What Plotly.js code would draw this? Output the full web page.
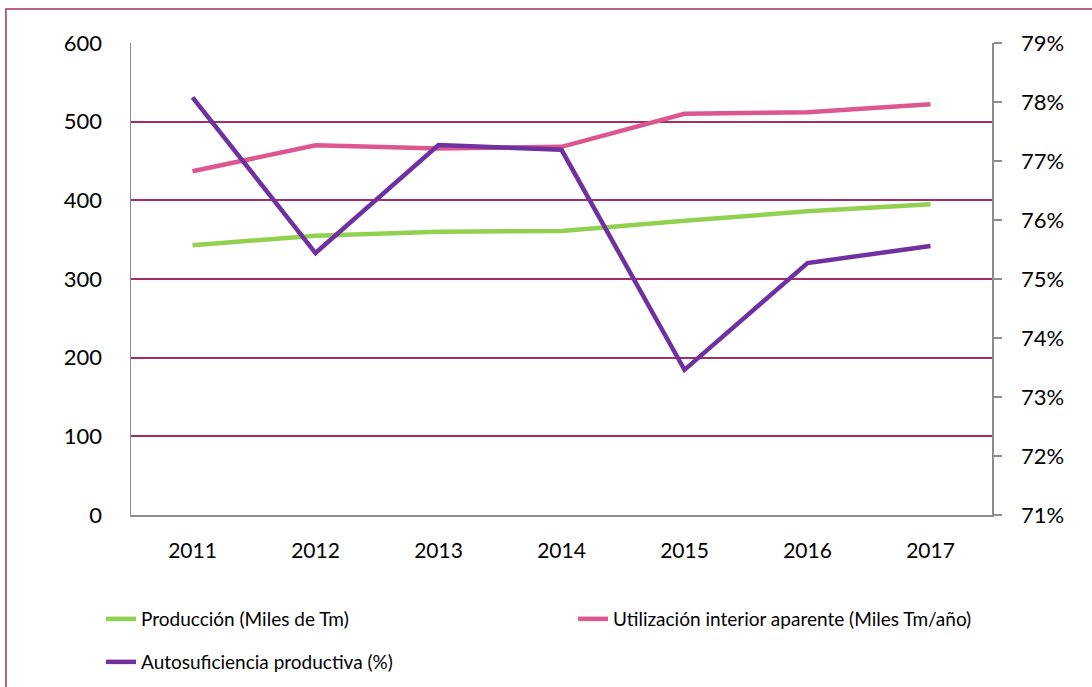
<!DOCTYPE html>
<html>
<head>
<meta charset="utf-8">
<script src="https://cdn.plot.ly/plotly-3.0.1.min.js"></script>
<style>html,body{margin:0;padding:0;background:#fff;}#chart{width:1092px;height:687px;}</style>
</head>
<body>
<div id="chart"></div>
<script>
const years = ['2011','2012','2013','2014','2015','2016','2017'];
const produccion = [343, 355, 360, 361, 374, 386, 395];
const utilizacion = [437, 470, 466, 468, 510, 512, 522];
const autosuficiencia = [78.08, 75.44, 77.27, 77.19, 73.46, 75.27, 75.56];
const names = ['Producción (Miles de Tm)', 'Utilización interior aparente (Miles Tm/año)', 'Autosuficiencia productiva (%)'];

const font = 'Lato, "Open Sans", sans-serif';
const grid = '#a03063';
const axisGrey = '#8c8c8c';

const traces = [
  {x: years, y: produccion, name: names[0], type: 'scatter', mode: 'lines', legend: 'legend', line: {color: '#92d050', width: 4.5}},
  {x: years, y: utilizacion, name: names[1], type: 'scatter', mode: 'lines', legend: 'legend3', line: {color: '#dc5690', width: 4.5}},
  {x: years, y: autosuficiencia, name: names[2], type: 'scatter', mode: 'lines', yaxis: 'y2', legend: 'legend2', line: {color: '#7030a0', width: 4.5}}
];

const legendFont = {family: font, size: 19, color: '#000'};
function legendAt(px, py) {
  return {
    orientation: 'h', xref: 'container', yref: 'container',
    x: px / 1092, y: (687 - py) / 687, xanchor: 'left', yanchor: 'middle',
    font: legendFont, bgcolor: 'rgba(0,0,0,0)'
  };
}

const layout = {
  width: 1092, height: 687,
  margin: {l: 131, r: 100, t: 43, b: 172, autoexpand: false},
  paper_bgcolor: '#fff', plot_bgcolor: '#fff',
  font: {family: font, color: '#000'},
  showlegend: true,
  legend: legendAt(101, 619),
  legend3: legendAt(573, 619),
  legend2: legendAt(101, 662),
  xaxis: {
    type: 'category', range: [-0.5, 6.5],
    showline: true, linecolor: axisGrey, linewidth: 1.5,
    ticks: '', showgrid: false, zeroline: false,
    tickfont: {family: font, size: 21, color: '#000'},
    ticklabelstandoff: 16
  },
  yaxis: {
    range: [0, 600], dtick: 100, tick0: 0,
    showgrid: true, gridcolor: grid, gridwidth: 2,
    showline: true, linecolor: axisGrey, linewidth: 1.5,
    ticks: '', zeroline: false,
    tickfont: {family: font, size: 22, color: '#000'},
    ticklabelstandoff: 23
  },
  yaxis2: {
    overlaying: 'y', side: 'right', range: [71, 79], dtick: 1, tick0: 71,
    ticksuffix: '%', showgrid: false, zeroline: false,
    showline: true, linecolor: axisGrey, linewidth: 1.5,
    ticks: 'outside', ticklen: 8, tickcolor: axisGrey, tickwidth: 1.5,
    tickfont: {family: font, size: 22, color: '#000'},
    ticklabelstandoff: 15
  },
  shapes: [
    {type: 'rect', xref: 'paper', yref: 'paper', x0: -0.1452, x1: 1.3, y0: -0.6, y1: 1.072,
     line: {color: grid, width: 1.5}, fillcolor: 'rgba(0,0,0,0)', layer: 'below'}
  ]
};

Plotly.newPlot('chart', traces, layout, {displayModeBar: false, staticPlot: true});
</script>
</body>
</html>
